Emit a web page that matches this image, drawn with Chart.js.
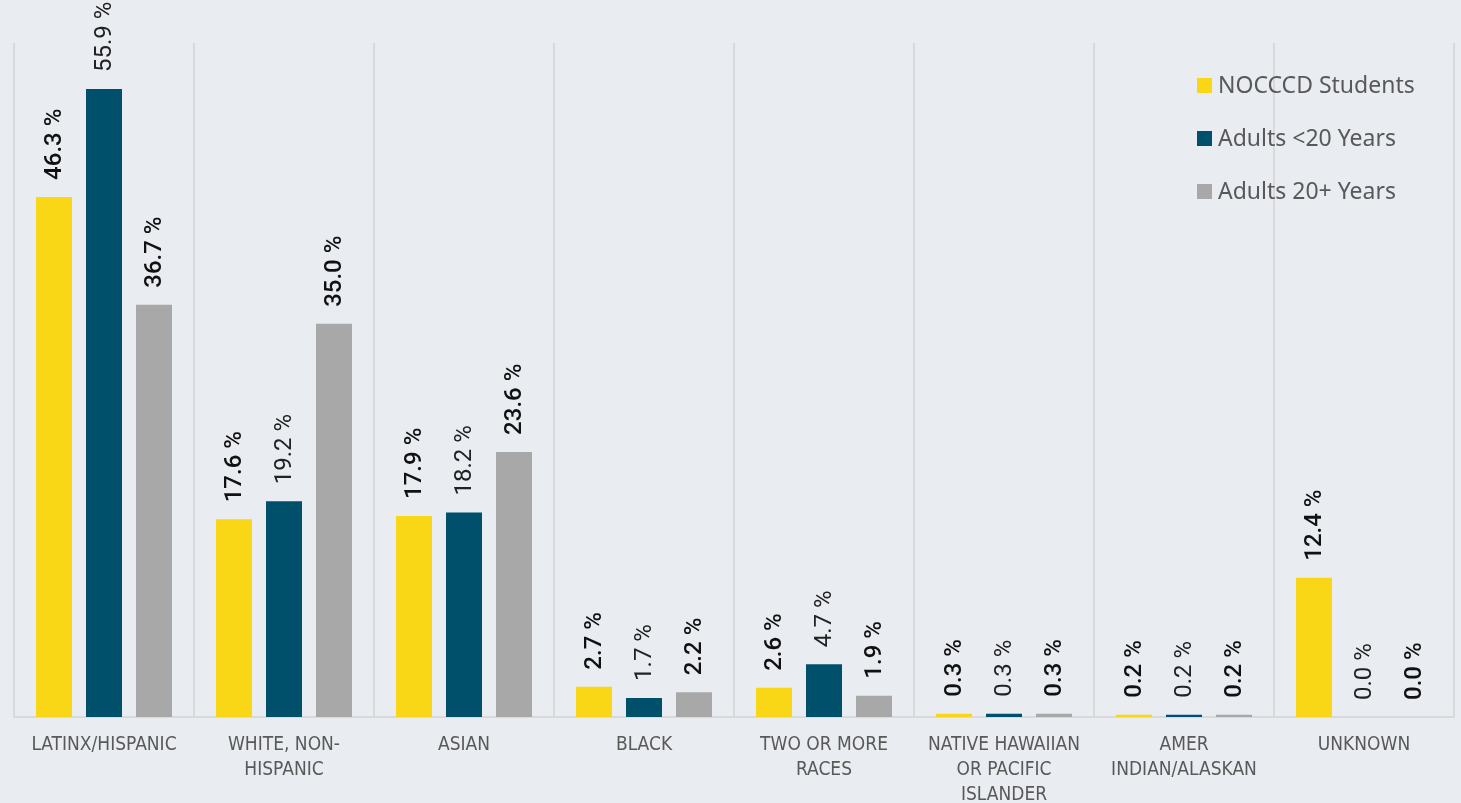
<!DOCTYPE html>
<html>
<head>
<meta charset="utf-8">
<title>Race / Ethnicity</title>
<script src="https://cdn.jsdelivr.net/npm/chart.js@4.4.1/dist/chart.umd.min.js"></script>
<style>
  html, body { margin: 0; padding: 0; background: #e9ecf1; }
  #wrap { width: 1461px; height: 803px; position: relative; }
</style>
</head>
<body>
<div id="wrap"><canvas id="chart"></canvas></div>
<script>
// -------------------- DATA -------------------
const categories = [
  ['LATINX/HISPANIC'],
  ['WHITE, NON-', 'HISPANIC'],
  ['ASIAN'],
  ['BLACK'],
  ['TWO OR MORE', 'RACES'],
  ['NATIVE HAWAIIAN', 'OR PACIFIC', 'ISLANDER'],
  ['AMER', 'INDIAN/ALASKAN'],
  ['UNKNOWN']
];
const seriesNames = ['NOCCCD Students', 'Adults <20 Years', 'Adults 20+ Years'];
const studentsPct = [46.3, 17.6, 17.9, 2.7, 2.6, 0.3, 0.2, 12.4];
const under20Pct  = [55.9, 19.2, 18.2, 1.7, 4.7, 0.3, 0.2, 0.0];
const over20Pct   = [36.7, 35.0, 23.6, 2.2, 1.9, 0.3, 0.2, 0.0];

const colors = ['#f9d616', '#00506c', '#a8a8a8'];
const labelBold = [true, false, true];

// -------------------- PLUGINS -------------------
// value labels rotated upright above each bar
const barLabels = {
  id: 'barLabels',
  afterDatasetsDraw(chart) {
    const ctx = chart.ctx;
    chart.data.datasets.forEach((ds, di) => {
      const meta = chart.getDatasetMeta(di);
      meta.data.forEach((bar, i) => {
        ctx.save();
        ctx.translate(bar.x, bar.y - 17);
        ctx.rotate(-Math.PI / 2);
        ctx.font = (labelBold[di] ? '500 ' : '400 ') + '24px Roboto';
        ctx.fillStyle = labelBold[di] ? '#111111' : '#222222';
        ctx.textAlign = 'left';
        ctx.textBaseline = 'middle';
        ctx.fillText(ds.data[i].toFixed(1) + ' %', 0, 1);
        ctx.restore();
      });
    });
  }
};

// stacked legend in the top right of the plot
const cornerLegend = {
  id: 'cornerLegend',
  afterDraw(chart) {
    const ctx = chart.ctx;
    const area = chart.chartArea;
    let x = area.right - 257;
    let y = area.top + 42;
    chart.data.datasets.forEach((ds) => {
      ctx.fillStyle = ds.backgroundColor;
      ctx.fillRect(x, y - 7, 15, 15);
      ctx.font = '23px "Noto Sans"';
      ctx.fillStyle = '#595959';
      ctx.textAlign = 'left';
      ctx.textBaseline = 'middle';
      ctx.fillText(ds.label, x + 21, y + 1);
      y += 53;
    });
  }
};

// -------------------- CHART -------------------
const canvas = document.getElementById('chart');
canvas.width = 1461;
canvas.height = 803;

new Chart(canvas, {
  type: 'bar',
  data: {
    labels: categories,
    datasets: [studentsPct, under20Pct, over20Pct].map((values, i) => ({
      label: seriesNames[i],
      data: values,
      backgroundColor: colors[i],
      categoryPercentage: 0.8333,
      barPercentage: 0.72
    }))
  },
  options: {
    responsive: false,
    animation: false,
    layout: { padding: { left: 14, right: 7, top: 43, bottom: 0 } },
    plugins: {
      legend: { display: false },
      tooltip: { enabled: false }
    },
    scales: {
      x: {
        grid: {
          display: true,
          offset: true,
          color: '#d9d9d9',
          lineWidth: 2,
          drawTicks: false
        },
        border: { display: true, color: '#d9d9d9', width: 2 },
        ticks: {
          color: '#595959',
          font: { family: '"Liberation Sans Narrow", "DejaVu Sans Condensed", sans-serif', size: 19, lineHeight: 1.3 },
          padding: 16,
          maxRotation: 0,
          autoSkip: false
        },
        afterFit(scale) { scale.height = 86; }
      },
      y: {
        display: false,
        min: 0,
        max: 60
      }
    }
  },
  plugins: [barLabels, cornerLegend]
});
</script>
</body>
</html>
